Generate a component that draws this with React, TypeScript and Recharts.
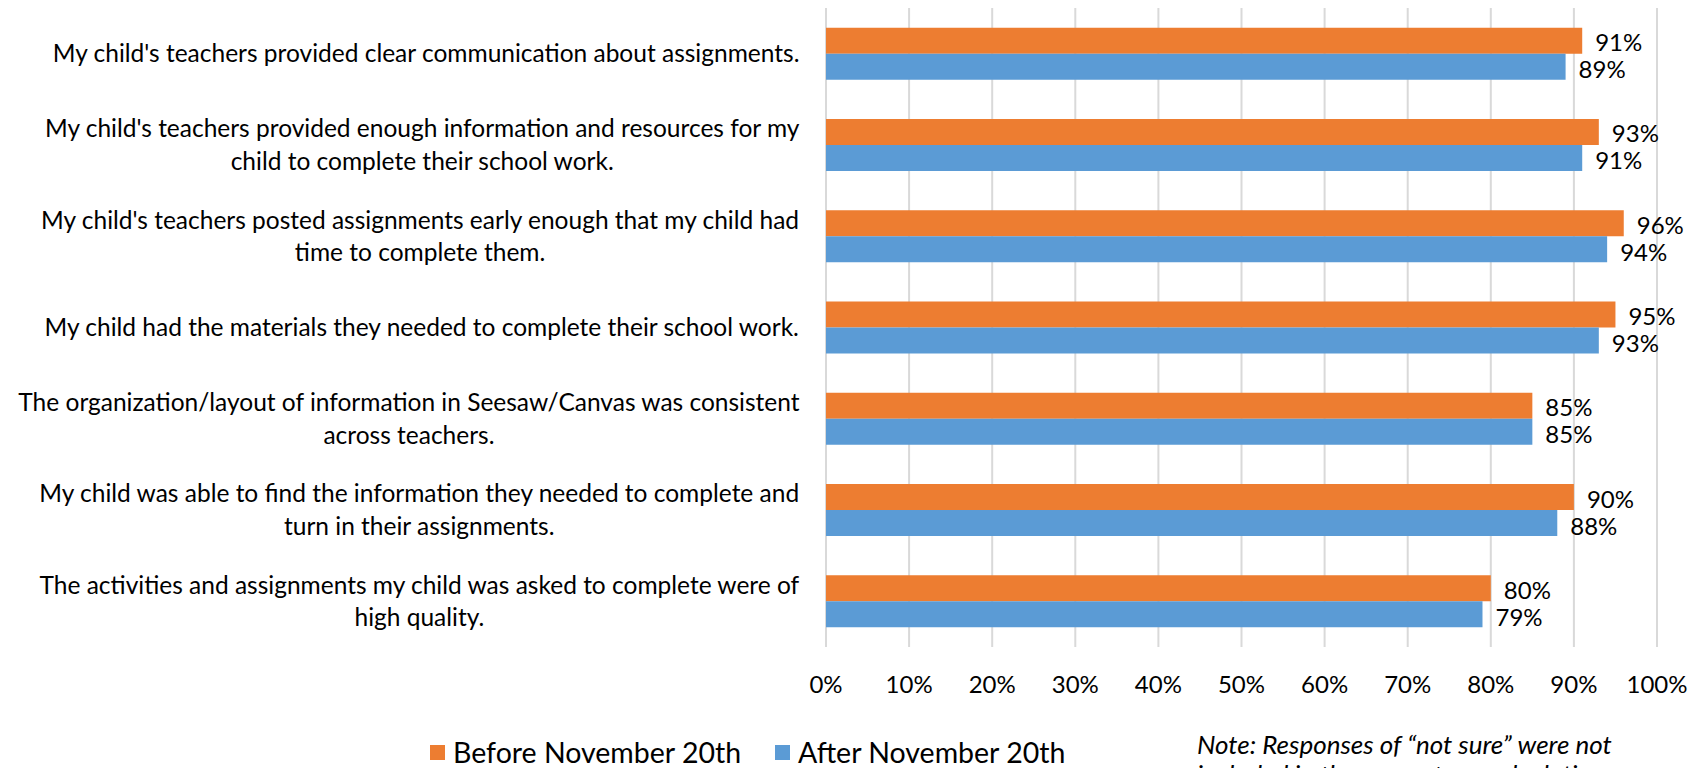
import { Bar, BarChart, CartesianGrid, LabelList, XAxis, YAxis } from "recharts";

const categories = [
  "My child's teachers provided clear communication about assignments.",
  "My child's teachers provided enough information and resources for my\nchild to complete their school work.",
  "My child's teachers posted assignments early enough that my child had\ntime to complete them.",
  "My child had the materials they needed to complete their school work.",
  "The organization/layout of information in Seesaw/Canvas was consistent\nacross teachers.",
  "My child was able to find the information they needed to complete and\nturn in their assignments.",
  "The activities and assignments my child was asked to complete were of\nhigh quality.",
];
const before = [91, 93, 96, 95, 85, 90, 80];
const after = [89, 91, 94, 93, 85, 88, 79];
const xTicks = [0, 10, 20, 30, 40, 50, 60, 70, 80, 90, 100];
const seriesNames = ["Before November 20th", "After November 20th"];
const noteLines = ["Note: Responses of \u201cnot sure\u201d were not", "included in the percentage calculations."];

const ORANGE = "#ED7D31";
const BLUE = "#5B9BD5";
const FONT = "Lato, 'Open Sans', sans-serif";
const CAT_SIZE = 24.5;
const NUM_SIZE = 24;

const rows = categories.map((label, i) => ({ label, before: before[i], after: after[i] }));

let ctx: CanvasRenderingContext2D | null = null;
function textWidth(s: string, size: number) {
  if (!ctx) ctx = document.createElement("canvas").getContext("2d");
  if (!ctx) return s.length * size * 0.48;
  ctx.font = `${size}px Lato`;
  return ctx.measureText(s).width;
}

function CatTick(props: any) {
  const { x, y, payload } = props;
  const lines = String(payload.value).split("\n");
  const w = Math.max(...lines.map((l) => textWidth(l, CAT_SIZE)));
  const cx = x - w / 2;
  const lh = 32.5;
  const y0 = y - ((lines.length - 1) * lh) / 2;
  return (
    <text textAnchor="middle" fontSize={CAT_SIZE} fill="#000" fontFamily={FONT}>
      {lines.map((l, i) => (
        <tspan key={i} x={cx} y={y0 + i * lh} dy="0.35em">{l}</tspan>
      ))}
    </text>
  );
}

const valueLabel = { fill: "#000", fontSize: NUM_SIZE, fontFamily: FONT };

export default function App() {
  return (
    <div style={{ position: "absolute", left: 0, top: 0, width: 1701, height: 768, overflow: "hidden", background: "#fff", fontFamily: FONT }}>
      <BarChart
        width={1701}
        height={768}
        layout="vertical"
        data={rows}
        margin={{ top: 8, right: 44, bottom: 71, left: 0 }}
        barCategoryGap="21.5%"
        barGap={0}
      >
        <CartesianGrid horizontal={false} stroke="#D9D9D9" strokeWidth={2} />
        <XAxis
          type="number"
          domain={[0, 100]}
          ticks={xTicks}
          tickFormatter={(v) => `${v}%`}
          axisLine={false}
          tickLine={false}
          tickSize={0}
          tickMargin={29}
          height={50}
          tick={{ fill: "#000", fontSize: NUM_SIZE, fontFamily: FONT }}
        />
        <YAxis
          type="category"
          dataKey="label"
          width={826}
          axisLine={false}
          tickLine={false}
          tickSize={0}
          tickMargin={26}
          interval={0}
          tick={CatTick}
        />
        <Bar dataKey="before" name={seriesNames[0]} fill={ORANGE} isAnimationActive={false}>
          <LabelList dataKey="before" position="right" offset={13} dy={2} formatter={(v: any) => `${v}%`} style={valueLabel} />
        </Bar>
        <Bar dataKey="after" name={seriesNames[1]} fill={BLUE} isAnimationActive={false}>
          <LabelList dataKey="after" position="right" offset={13} dy={3} formatter={(v: any) => `${v}%`} style={valueLabel} />
        </Bar>
      </BarChart>

      {/* legend */}
      {[ORANGE, BLUE].map((c, i) => (
        <div key={i} style={{ position: "absolute", left: i === 0 ? 430 : 775, top: 735, display: "flex", alignItems: "center", gap: 8 }}>
          <div style={{ width: 15, height: 15, background: c }} />
          <span style={{ fontSize: 28.5, lineHeight: "34px", color: "#000" }}>{seriesNames[i]}</span>
        </div>
      ))}

      {/* note, second line runs off the bottom like the original */}
      <div style={{ position: "absolute", left: 1197, top: 729, fontSize: 26, lineHeight: "30px", fontStyle: "italic", color: "#000", whiteSpace: "nowrap" }}>
        {noteLines.map((l, i) => (
          <div key={i}>{l}</div>
        ))}
      </div>
    </div>
  );
}
